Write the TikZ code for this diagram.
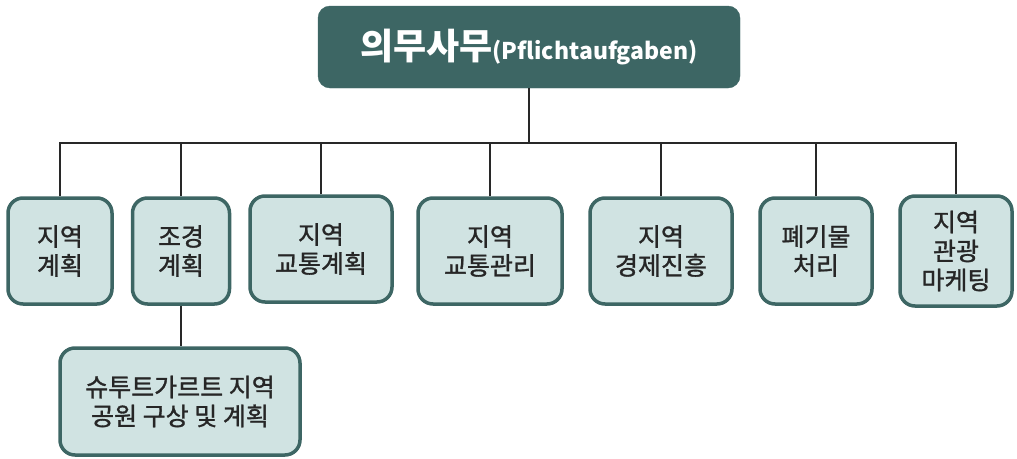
\documentclass[tikz,border=0pt]{standalone}
\usepackage{fontspec}
\setmainfont{Noto Sans CJK KR}
\font\boxfont="Noto Sans CJK KR:embolden=1.2" at 25pt
\usepackage{tikz}
\usetikzlibrary{positioning}
\usepackage{xcolor}
\definecolor{dfteal}{RGB}{61,102,100}
\definecolor{dflightteal}{RGB}{208,227,226}
\definecolor{dfline}{RGB}{40,40,40}
\tikzstyle{topbox} = [rectangle, rounded corners=12pt, fill=dfteal, draw=dfteal, text=white, align=center, inner sep=0pt]
\tikzstyle{task} = [rectangle, rounded corners=15pt, draw=dfteal, fill=dflightteal, line width=3.5pt, align=center, inner sep=0pt, font={\fontsize{25}{29}\selectfont\boxfont}, text=black!85]
\tikzstyle{link} = [line width=1.5pt, color=dfline]

\begin{document}
\begin{tikzpicture}[x=1pt,y=-1pt]
\useasboundingbox (0,0) rectangle (1017,458);

% Top node
\node[topbox, minimum width=422pt, minimum height=82pt] (duty) at (529,47) {\fontsize{36}{40}\selectfont\bfseries 의무사무\fontsize{23}{26}\selectfont(Pflichtaufgaben)};

% Task boxes
\node[task, minimum width=104pt, minimum height=106pt] (regplan) at (60,251) {지역\\계획};
\node[task, minimum width=97pt, minimum height=106pt] (landplan) at (181,251) {조경\\계획};
\node[task, minimum width=142pt, minimum height=106pt] (trafplan) at (321,249) {지역\\교통계획};
\node[task, minimum width=144pt, minimum height=106pt] (trafman) at (490,251) {지역\\교통관리};
\node[task, minimum width=142pt, minimum height=106pt] (econ) at (661,251) {지역\\경제진흥};
\node[task, minimum width=112pt, minimum height=106pt] (waste) at (816,251) {폐기물\\처리};
\node[task, minimum width=112pt, minimum height=110pt] (tour) at (956,251) {지역\\관광\\마케팅};

% Sub task
\node[task, minimum width=240pt, minimum height=107pt] (park) at (180,401.5) {슈투트가르트 지역\\공원 구상 및 계획};

% Connectors
\coordinate (bus) at (529,143);
\draw[link] (duty.south) -- (bus);
\draw[link] (regplan.north) |- (bus);
\draw[link] (tour.north) |- (bus);
\draw[link] (landplan.north) -- (landplan.north |- bus);
\draw[link] (trafplan.north) -- (trafplan.north |- bus);
\draw[link] (trafman.north) -- (trafman.north |- bus);
\draw[link] (econ.north) -- (econ.north |- bus);
\draw[link] (waste.north) -- (waste.north |- bus);
\draw[link] (landplan.south) -- (park.north -| landplan.south);
\end{tikzpicture}
\end{document}
